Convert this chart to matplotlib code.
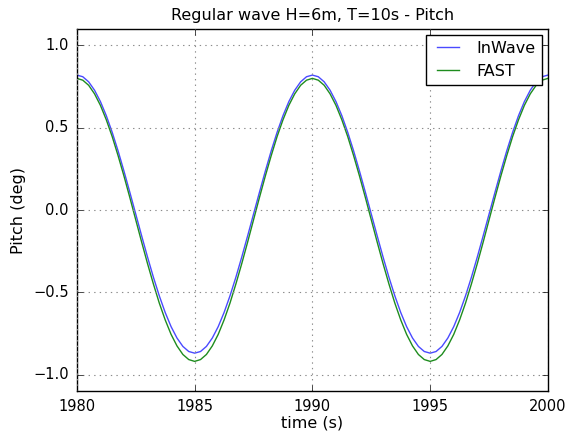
import numpy as np
import matplotlib.pyplot as plt

plt.style.use('classic')

# time axis, 0.25 s steps over two wave periods
time = np.arange(1980.0, 2000.01, 0.25)

# pitch response over one period (peak -> trough -> peak), deg
inwave_period = [0.820, 0.810, 0.779, 0.728, 0.659, 0.573, 0.472, 0.359, 0.236, 0.107,
                 -0.025, -0.157, -0.286, -0.409, -0.522, -0.623, -0.709, -0.778, -0.829, -0.860,
                 -0.870, -0.860, -0.829, -0.778, -0.709, -0.623, -0.522, -0.409, -0.286, -0.157,
                 -0.025, 0.107, 0.236, 0.359, 0.472, 0.573, 0.659, 0.728, 0.779, 0.810]
fast_period = [0.800, 0.789, 0.758, 0.706, 0.636, 0.548, 0.446, 0.330, 0.206, 0.075,
               -0.060, -0.195, -0.326, -0.450, -0.566, -0.668, -0.756, -0.826, -0.878, -0.909,
               -0.920, -0.909, -0.878, -0.826, -0.756, -0.668, -0.566, -0.450, -0.326, -0.195,
               -0.060, 0.075, 0.206, 0.330, 0.446, 0.548, 0.636, 0.706, 0.758, 0.789]

# regular wave -> same response each period
inwave = inwave_period * 2 + [inwave_period[0]]
fast = fast_period * 2 + [fast_period[0]]

fs = 11.5

fig = plt.figure(figsize=(5.78, 4.33), dpi=100, facecolor='white')
ax = fig.add_axes([0.133, 0.097, 0.815, 0.836])

ax.plot(time, inwave, color='#4a4aff', lw=1.0, label='InWave')
ax.plot(time, fast, color='#1e8c1e', lw=1.0, label='FAST')

ax.set_xlim(1980, 2000)
ax.set_ylim(-1.1, 1.1)
ax.set_xticks([1980, 1985, 1990, 1995, 2000])
ax.set_yticks([-1.0, -0.5, 0.0, 0.5, 1.0])
ax.ticklabel_format(useOffset=False)
ax.tick_params(labelsize=10.5, pad=6)
ax.grid(True, linestyle=':', color='0.55', linewidth=0.8)

ax.set_title('Regular wave H=6m, T=10s - Pitch', fontsize=fs, y=1.005)
ax.set_xlabel('time (s)', fontsize=fs, labelpad=1)
ax.set_ylabel('Pitch (deg)', fontsize=fs, labelpad=5)

ax.legend(loc='upper right', fontsize=fs, borderaxespad=0.35, handletextpad=0.8)

fig.savefig('out.png', dpi=100, facecolor='white')
